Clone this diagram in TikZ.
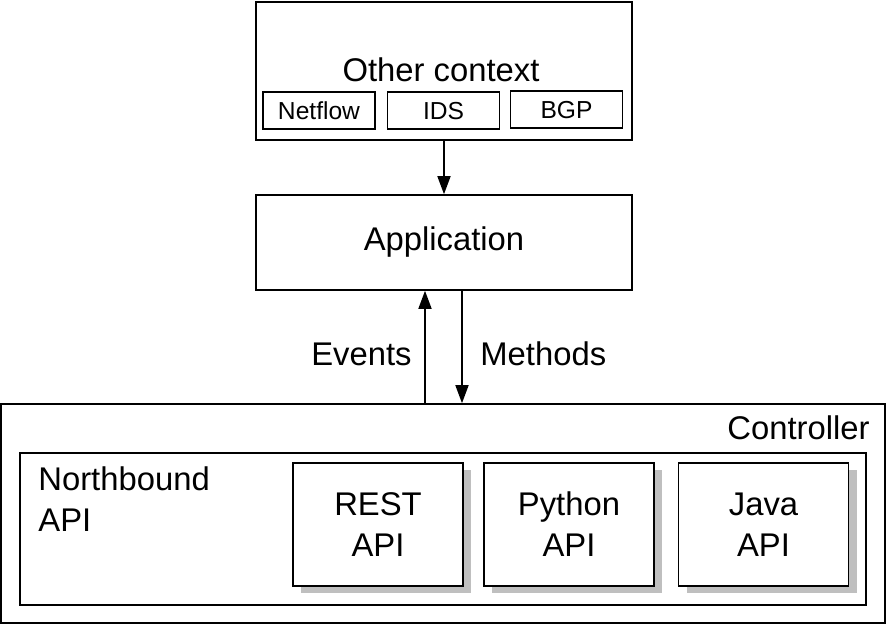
\documentclass[tikz,border=0pt]{standalone}
\usepackage{fontspec}
\setmainfont{Liberation Sans}
\usetikzlibrary{arrows.meta}
\usetikzlibrary{shadows}
\usetikzlibrary{positioning}

\tikzset{
  box/.style={draw, line width=0.8pt, fill=white, inner sep=0pt},
  bigtxt/.style={font=\fontsize{16.4}{20.5}\selectfont},
  smalltxt/.style={font=\fontsize{12.3}{15}\selectfont},
  lbl/.style={bigtxt, inner sep=0pt},
  apibox/.style={box, bigtxt, align=center, minimum width=85pt, minimum height=61.5pt,
    drop shadow={shadow xshift=4pt, shadow yshift=-3.5pt, fill=black!25, opacity=1}},
  srcbox/.style={box, smalltxt, text height=9pt, text depth=0pt, minimum width=56pt, minimum height=18.5pt},
  arr/.style={-{Triangle[length=9pt,width=6.5pt]}, line width=0.8pt}
}

\begin{document}
\begin{tikzpicture}[x=0.5pt, y=-0.5pt]
            \useasboundingbox (0,0) rectangle (887,625);
            % top: other context
            \node[box, bigtxt, minimum width=188pt, minimum height=69pt] (ctx) at (444,71) {};
            \node[bigtxt] (ctxlbl) at (441,70) {Other context};
            \node[srcbox] (netflow) at (319,110.5) {Netflow};
            \node[srcbox] (ids) at (443.5,110.5) {IDS};
            \node[srcbox] (bgp) at (566.5,109.5) {BGP};
            % application
            \node[box, bigtxt, minimum width=188pt, minimum height=47.5pt] (app) at (444,242.5) {Application};
            \draw[arr] (ctx.south) -- (app.north);
            % controller
            \node[box, minimum width=442pt, minimum height=109.5pt] (ctrl) at (443,513.5) {};
            \node[lbl, anchor=east] (ctrllbl) at (870,428) {Controller};
            \node[box, minimum width=423pt, minimum height=76pt] (nb) at (443,529) {};
            \node[lbl, align=left, anchor=north west] (nblbl) at (38,466) {Northbound\\API};
            \node[apibox] (rest) at (378,524.5) {REST\\API};
            \node[apibox] (python) at (569,524.5) {Python\\API};
            \node[apibox] (java) at (763.5,524.5) {Java\\API};
            % events / methods
            \draw[arr] ([xshift=-9.5pt]app.south |- ctrl.north) -- ([xshift=-9.5pt]app.south);
            \draw[arr] ([xshift=9pt]app.south) -- ([xshift=9pt]app.south |- ctrl.north);
            \node[lbl, anchor=east] (events) at (412,354) {Events};
            \node[lbl, anchor=west] (methods) at (480,354) {Methods};
\end{tikzpicture}
\end{document}
